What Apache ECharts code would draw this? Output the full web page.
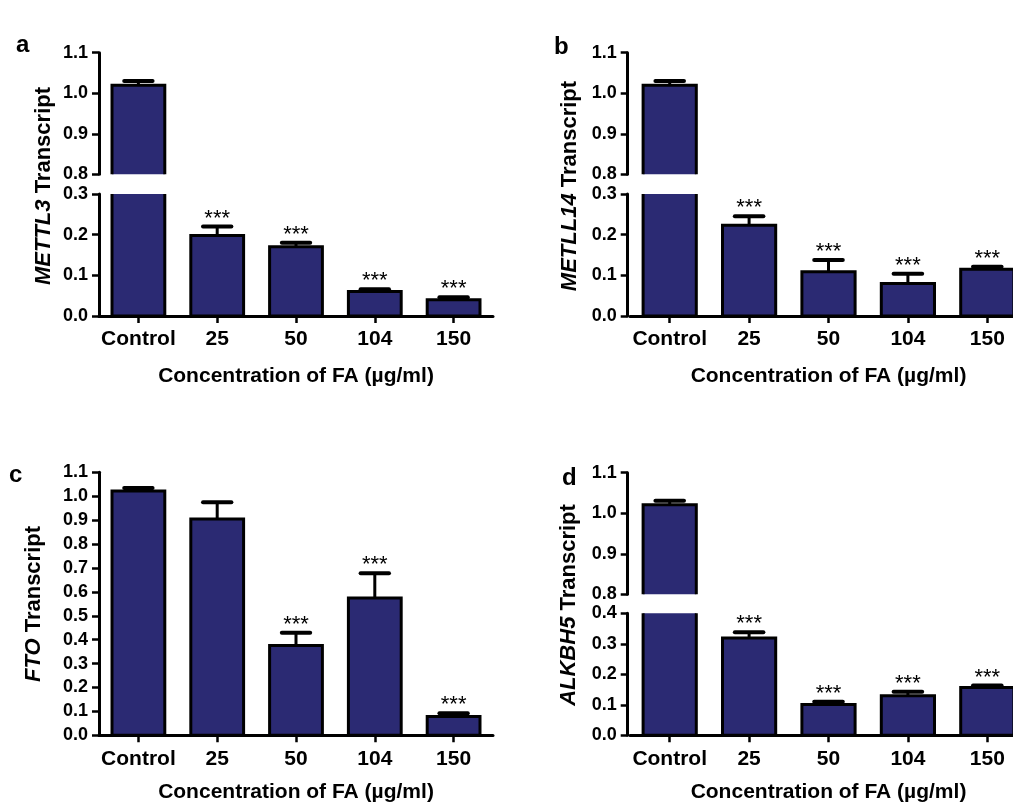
<!DOCTYPE html>
<html>
<head>
<meta charset="utf-8">
<script src="https://cdn.jsdelivr.net/npm/echarts@6/dist/echarts.min.js"></script>
<style>
html,body{margin:0;padding:0;background:#fff;}
#chart{width:1013px;height:804px;}
</style>
</head>
<body>
<div id="chart"></div>
<script>
// ---- data ----
const categories = ['Control', '25', '50', '104', '150'];

const mettl3Mean = [1.02, 0.198, 0.170, 0.060, 0.040];
const mettl3Err  = [0.010, 0.022, 0.010, 0.006, 0.006];
const mettl3Sig  = ['', '***', '***', '***', '***'];

const mettl14Mean = [1.02, 0.223, 0.109, 0.080, 0.115];
const mettl14Err  = [0.010, 0.022, 0.029, 0.024, 0.006];
const mettl14Sig  = ['', '***', '***', '***', '***'];

const ftoMean = [1.022, 0.905, 0.376, 0.574, 0.079];
const ftoErr  = [0.012, 0.070, 0.053, 0.104, 0.013];
const ftoSig  = ['', '', '***', '***', '***'];

const alkbh5Mean = [1.021, 0.319, 0.101, 0.130, 0.157];
const alkbh5Err  = [0.010, 0.019, 0.009, 0.013, 0.006];
const alkbh5Sig  = ['', '***', '***', '***', '***'];

const upperTicks = { min: 0.8, max: 1.1, interval: 0.1 };
const lowerTicksAB = { min: 0, max: 0.3, interval: 0.1 };
const lowerTicksD = { min: 0, max: 0.4, interval: 0.1 };
const fullTicksC = { min: 0, max: 1.1, interval: 0.1 };

const xTitle = 'Concentration of FA (\u00b5g/ml)';

// ---- styles ----
const BAR = '#2b2a73';
const FONT = '"Liberation Sans", Arial, sans-serif';

const chart = echarts.init(document.getElementById('chart'), null, { renderer: 'canvas' });

const grids = [], xAxes = [], yAxes = [], series = [], graphics = [];

function makeRender(mean, err, sig) {
  return function (params, api) {
    const i = params.dataIndex;
    const idx = api.value(0);
    const v = api.value(1);
    const e = api.value(2);
    const band = api.size([1, 0])[0];
    const top = api.coord([idx, v]);
    const base = api.coord([idx, 0]);
    const cap = api.coord([idx, v + e]);
    const bw = band * 0.67;
    const cw = band * 0.36;
    const children = [
      { type: 'rect', shape: { x: top[0] - bw / 2, y: top[1], width: bw, height: base[1] - top[1] },
        style: { fill: BAR, stroke: '#000', lineWidth: 3 } },
      { type: 'line', shape: { x1: top[0], y1: top[1], x2: top[0], y2: cap[1] },
        style: { stroke: '#000', lineWidth: 3 } },
      { type: 'line', shape: { x1: top[0] - cw / 2, y1: cap[1], x2: top[0] + cw / 2, y2: cap[1] },
        style: { stroke: '#000', lineWidth: 4, lineCap: 'round' } }
    ];
    if (sig[i]) {
      children.push({ type: 'text', x: top[0], y: cap[1] - 8,
        style: { text: sig[i], font: '22px ' + FONT, fill: '#000', align: 'center', verticalAlign: 'middle' } });
    }
    return { type: 'group', children: children };
  };
}

function yAxisOpt(gi, ticks, offset) {
  return {
    type: 'value', gridIndex: gi, min: ticks.min, max: ticks.max, interval: ticks.interval, offset: offset,
    axisLine: { show: true, lineStyle: { color: '#000', width: 3 } },
    axisTick: { show: true, length: 7, lineStyle: { color: '#000', width: 2.5 } },
    axisLabel: { color: '#000', fontSize: 18, fontWeight: 'bold', fontFamily: FONT, margin: 11,
      formatter: v => v.toFixed(1) },
    splitLine: { show: false }
  };
}

function xAxisOpt(gi, visible, nameGap) {
  return {
    type: 'category', gridIndex: gi, data: categories, show: visible,
    axisLine: { show: true, onZero: false, lineStyle: { color: '#000', width: 3 } },
    axisTick: { show: true, alignWithLabel: true, length: 7, lineStyle: { color: '#000', width: 2.5 } },
    axisLabel: { color: '#000', fontSize: 21, fontWeight: 'bold', fontFamily: FONT, margin: 13, interval: 0 },
    name: visible ? xTitle : '', nameLocation: 'middle', nameGap: nameGap,
    nameTextStyle: { color: '#000', fontSize: 21, fontWeight: 'bold', fontFamily: FONT }
  };
}

function addSeries(gi, mean, err, sig) {
  series.push({
    type: 'custom', xAxisIndex: gi, yAxisIndex: gi, clip: true,
    renderItem: makeRender(mean, err, sig),
    encode: { x: 0, y: 1 },
    data: categories.map((c, i) => [i, mean[i], err[i]])
  });
}

function gridOpt(p, top, bottom) {
  return { left: p.left, width: p.width, top: top, height: bottom - top,
    containLabel: false, outerBoundsMode: 'none' };
}

function addPanel(p) {
  if (p.upper) {
    const gu = grids.length;
    grids.push(gridOpt(p, p.upper[0], p.upper[1]));
    xAxes.push(xAxisOpt(gu, false, 0));
    yAxes.push(yAxisOpt(gu, upperTicks, p.yOffset));
    addSeries(gu, p.mean, p.err, p.sig);
  }
  const gl = grids.length;
  grids.push(gridOpt(p, p.lower[0], p.lower[1]));
  xAxes.push(xAxisOpt(gl, true, p.nameGap));
  yAxes.push(yAxisOpt(gl, p.lowerTicks, p.yOffset));
  addSeries(gl, p.mean, p.err, p.sig);

  graphics.push({ type: 'text', x: p.titleX, y: p.titleY, rotation: Math.PI / 2,
    style: { text: '{i|' + p.gene + '} Transcript', fill: '#000', font: 'bold 22px ' + FONT,
      align: 'center', verticalAlign: 'middle',
      rich: { i: { fontStyle: 'italic', fontWeight: 'bold', fontSize: 22, fontFamily: FONT, fill: '#000' } } } });
  graphics.push({ type: 'text', x: p.labelX, y: p.labelY,
    style: { text: p.letter, fill: '#000', font: 'bold 24px ' + FONT, align: 'left', verticalAlign: 'alphabetic' } });
}

addPanel({ letter: 'a', gene: 'METTL3', left: 99, width: 394, yOffset: 0, nameGap: 50,
  upper: [52.7, 174.3], lower: [194, 316], lowerTicks: lowerTicksAB,
  mean: mettl3Mean, err: mettl3Err, sig: mettl3Sig, titleX: 44, titleY: 186, labelX: 16, labelY: 33 });
addPanel({ letter: 'b', gene: 'METLL14', left: 630, width: 397, yOffset: 2.3, nameGap: 50,
  upper: [52.7, 174.3], lower: [194, 316], lowerTicks: lowerTicksAB,
  mean: mettl14Mean, err: mettl14Err, sig: mettl14Sig, titleX: 570, titleY: 186, labelX: 554, labelY: 35 });
addPanel({ letter: 'c', gene: 'FTO', left: 99, width: 394, yOffset: 0, nameGap: 46,
  upper: null, lower: [472.3, 735.3], lowerTicks: fullTicksC,
  mean: ftoMean, err: ftoErr, sig: ftoSig, titleX: 34, titleY: 604, labelX: 9, labelY: 463 });
addPanel({ letter: 'd', gene: 'ALKBH5', left: 630, width: 397, yOffset: 2.3, nameGap: 46,
  upper: [472.7, 594.3], lower: [613.3, 735.3], lowerTicks: lowerTicksD,
  mean: alkbh5Mean, err: alkbh5Err, sig: alkbh5Sig, titleX: 569, titleY: 605, labelX: 562, labelY: 466 });

chart.setOption({
  animation: false,
  backgroundColor: '#fff',
  grid: grids,
  xAxis: xAxes,
  yAxis: yAxes,
  series: series,
  graphic: graphics
});
</script>
</body>
</html>
